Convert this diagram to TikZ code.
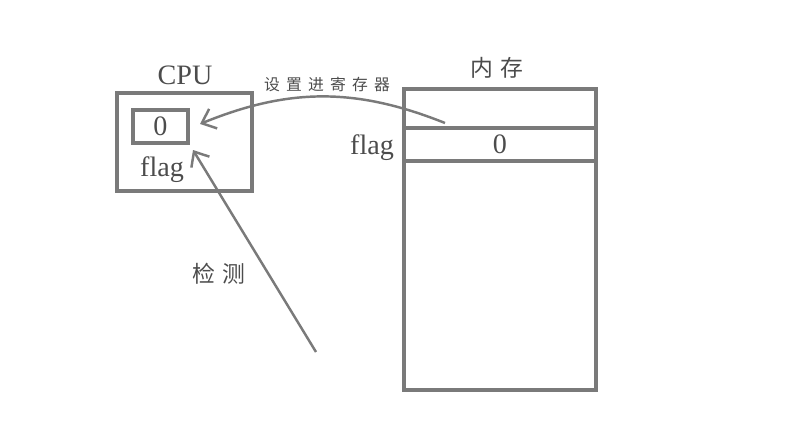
\documentclass[tikz,border=0pt]{standalone}
\usepackage{fontspec}
\setmainfont{Liberation Serif}
\newfontfamily\cjk{Noto Sans CJK SC}
\usepackage{xcolor}
\usepackage{tikz}
\usetikzlibrary{positioning,arrows.meta}

\definecolor{linegray}{gray}{0.48}
\definecolor{textgray}{gray}{0.3}

\begin{document}
\begin{tikzpicture}[
    box/.style={rectangle, draw=linegray, line width=1.8pt, inner sep=0pt, outer sep=0pt},
    cell/.style={box, minimum width=3.84cm},
    lbl/.style={text=textgray, font=\fontsize{16}{19}\selectfont},
    cjklbl/.style={text=textgray, font=\cjk\fontsize{13}{15}\selectfont},
    link/.style={draw=linegray, line width=1.4pt, -{Straight Barb[length=7pt,width=12pt]}},
]
\useasboundingbox (0,0) rectangle (15.9,-8.92);

% CPU
\node[box, minimum width=2.70cm, minimum height=1.96cm] (cpu) at (3.69,-2.84) {};
\node[lbl] at (3.70,-1.50) {CPU};
\node[box, minimum width=1.10cm, minimum height=0.66cm] (reg) at (3.21,-2.53) {};
\node[lbl] at (reg) {0};
\node[lbl] at (3.24,-3.40) {flag};

% Memory
\node[cell, minimum height=0.78cm] (memtop) at (10.00,-2.17) {};
\node[cell, minimum height=0.66cm, below=0pt of memtop] (memflag) {};
\node[cell, minimum height=4.58cm, below=0pt of memflag] (memrest) {};
\node[lbl] at (memflag) {0};
\node[lbl] at (7.44,-2.96) {flag};
\node[cjklbl] at (9.94,-1.36) {内\hspace{4pt}存};

% Connections
\coordinate (setfrom) at (8.90,-2.46);
\coordinate (setto) at (4.00,-2.48);
\draw[link] (setfrom) to[bend right=22] (setto);
\node[cjklbl, font=\cjk\fontsize{9}{11}\selectfont] at (6.54,-1.68)
    {设\hspace{3.5pt}置\hspace{3.5pt}进\hspace{3.5pt}寄\hspace{3.5pt}存\hspace{3.5pt}器};

\coordinate (checkfrom) at (6.32,-7.04);
\coordinate (checkto) at (3.86,-3.00);
\draw[link] (checkfrom) -- (checkto);
\node[cjklbl] at (4.38,-5.48) {检\hspace{4pt}测};

\end{tikzpicture}
\end{document}
